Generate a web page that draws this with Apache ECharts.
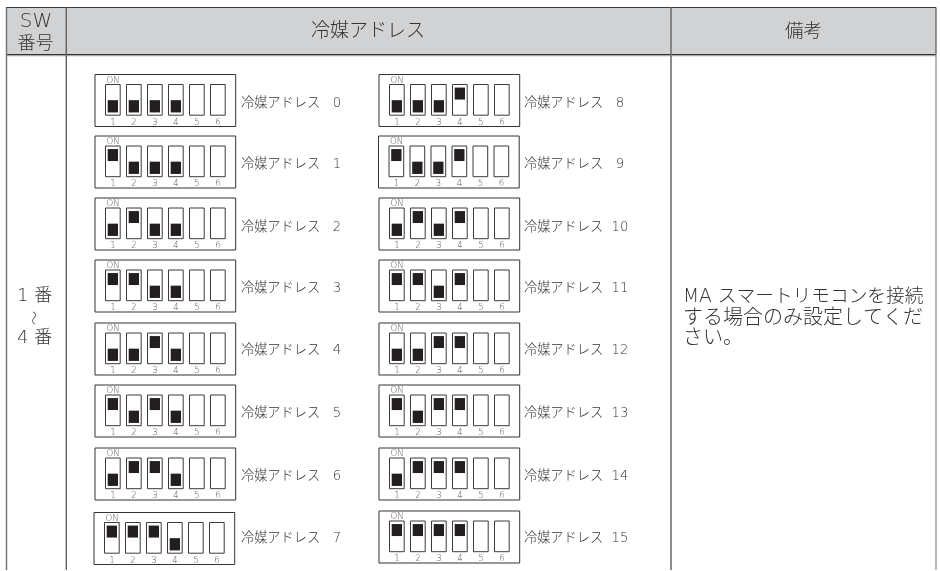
<!DOCTYPE html>
<html><head><meta charset="utf-8">
<style>html,body{margin:0;padding:0;background:#fff}#c{width:940px;height:571px}</style>
<script src="https://cdn.jsdelivr.net/npm/echarts@6/dist/echarts.min.js"></script>
</head><body><div id="c"></div>
<script>
// ---- data ----
const headers = ['SW', '番号', '冷媒アドレス', '備考'];
const switchNames = ['1', '2', '3', '4', '5', '6'];
const onLabel = 'ON';
const addressLabels = [
  '冷媒アドレス   0', '冷媒アドレス   1', '冷媒アドレス   2', '冷媒アドレス   3',
  '冷媒アドレス   4', '冷媒アドレス   5', '冷媒アドレス   6', '冷媒アドレス   7',
  '冷媒アドレス   8', '冷媒アドレス   9', '冷媒アドレス  10', '冷媒アドレス  11',
  '冷媒アドレス  12', '冷媒アドレス  13', '冷媒アドレス  14', '冷媒アドレス  15'
];
// 1 = lever up (ON), 0 = lever down, null = no lever drawn
const switchStates = [
  [0,0,0,0,null,null],[1,0,0,0,null,null],[0,1,0,0,null,null],[1,1,0,0,null,null],
  [0,0,1,0,null,null],[1,0,1,0,null,null],[0,1,1,0,null,null],[1,1,1,0,null,null],
  [0,0,0,1,null,null],[1,0,0,1,null,null],[0,1,0,1,null,null],[1,1,0,1,null,null],
  [0,0,1,1,null,null],[1,0,1,1,null,null],[0,1,1,1,null,null],[1,1,1,1,null,null]
];
const swRangeTop = ['1 番'];
const swRangeBottom = ['4 番'];
const noteLines = ['MA スマートリモコンを接続', 'する場合のみ設定してくだ', 'さい。'];

// ---- layout ----
const boxLeft = [95,95,95,95,95,95,95,94, 379,378.5,379,379,379,379,379,379];
const boxTop  = [74.5,136,198,260,323,385,448,512.5, 74.5,136,198,260,323,385,448,511];
const labelY  = [104,165,227.5,288.5,350.5,413.5,476.5,538.5];
const BOX_W = 140.7, BOX_H = 52, INNER_PAD = 7.35, SLOT_TOP = 10, SLOT_H = 30.7;
const INK = '#3a3a3a', FONT = '"DejaVu Sans","Noto Sans CJK JP","Noto Sans",sans-serif';

function txt(x, y, text, size, color, align, rotation) {
  return {type:'text', x, y, rotation: rotation || 0, silent:true, z:5,
    style:{text, fill:color||INK, font:`200 ${size}px ${FONT}`, align:align||'center', verticalAlign:'middle'}};
}
function ln(x1,y1,x2,y2,color,w){
  return {type:'line', silent:true, z:4, shape:{x1,y1,x2,y2}, style:{stroke:color,lineWidth:w}};
}

const graphics = [
  {type:'rect', silent:true, z:1, shape:{x:6,y:7.5,width:930,height:46.5}, style:{fill:'#d1d2d4'}},
  ln(6,7.5,936,7.5,'#3a3a3a',1.2),
  ln(6,54.5,936,54.5,'#333333',1.2),
  ln(6,55.7,936,55.7,'#a8a8a8',1.2),
  ln(6.5,7.5,6.5,570,'#707070',1.4),
  ln(66.3,7.5,66.3,570,'#606060',1.4),
  ln(671,7.5,671,570,'#707070',1.6),
  ln(936,7.5,936,54,'#555555',1.2),
  ln(936,54,936,570,'#888888',1.2),
  txt(36,22,headers[0],20,'#333'), txt(35.5,44,headers[1],18,'#333'),
  txt(368,32.5,headers[2],19,'#333'), txt(803.5,32.5,headers[3],18.5,'#333'),
  txt(17,296.5,swRangeTop[0],18,'#333','left'),
  txt(35,318,'〜',14,'#444','center',Math.PI/2),
  txt(17,338.5,swRangeBottom[0],18,'#333','left'),
  txt(683,297.5,noteLines[0],18.7,'#333','left'),
  txt(683,318.5,noteLines[1],20,'#333','left'),
  txt(683,339,noteLines[2],20,'#333','left')
];

const grids = [], xAxes = [], yAxes = [], series = [];
const renderSwitch = (params, api) => {
  const idx = api.value(0), state = api.value(1);
  const band = api.size([1,0])[0];
  const c = api.coord([idx, 1]), b = api.coord([idx, 0]);
  const w = band * 0.7;
  const children = [{type:'rect', shape:{x:c[0]-w/2, y:c[1], width:w, height:b[1]-c[1]},
    style:{fill:'#fff', stroke:INK, lineWidth:1}}];
  if (!isNaN(state)) {
    const hi = api.coord([idx, state ? 0.9 : 0.49]), lo = api.coord([idx, state ? 0.51 : 0.09]);
    const bw = band * 0.49;
    children.push({type:'rect', shape:{x:c[0]-bw/2, y:hi[1], width:bw, height:lo[1]-hi[1]},
      style:{fill:'#231f20'}});
  }
  return {type:'group', children};
};

switchStates.forEach((states, i) => {
  const left = boxLeft[i], top = boxTop[i];
  grids.push({left:left+INNER_PAD, width:BOX_W-2*INNER_PAD, top:top+SLOT_TOP, height:SLOT_H, show:false});
  xAxes.push({gridIndex:i, type:'category', data:switchNames, boundaryGap:true,
    axisLine:{show:false}, axisTick:{show:false},
    axisLabel:{show:true, interval:0, fontSize:8.5, color:'#555', margin:3, fontFamily:'"DejaVu Sans",sans-serif', fontWeight:200}});
  yAxes.push({gridIndex:i, type:'value', min:0, max:1, show:false});
  series.push({type:'custom', xAxisIndex:i, yAxisIndex:i, renderItem:renderSwitch, silent:true, animation:false,
    encode:{x:0,y:1}, data:states.map((s,k)=>[k, s===null?'-':s])});
  graphics.push({type:'rect', silent:true, z:2, shape:{x:left,y:top,width:BOX_W,height:BOX_H},
    style:{fill:'transparent', stroke:'#333', lineWidth:1}});
  graphics.push(txt(left+18, top+6, onLabel, 8.5, '#555', 'center'));
  graphics.push({type:'text', silent:true, z:5, x:(i<8?241:524), y:labelY[i%8],
    style:{text:addressLabels[i], fill:'#333', font:`200 13.2px ${FONT}`, align:'left', verticalAlign:'middle'}});
});

const chart = echarts.init(document.getElementById('c'));
chart.setOption({animation:false, backgroundColor:'#fff', tooltip:{show:false},
  grid:grids, xAxis:xAxes, yAxis:yAxes, series, graphic:graphics});
</script></body></html>
